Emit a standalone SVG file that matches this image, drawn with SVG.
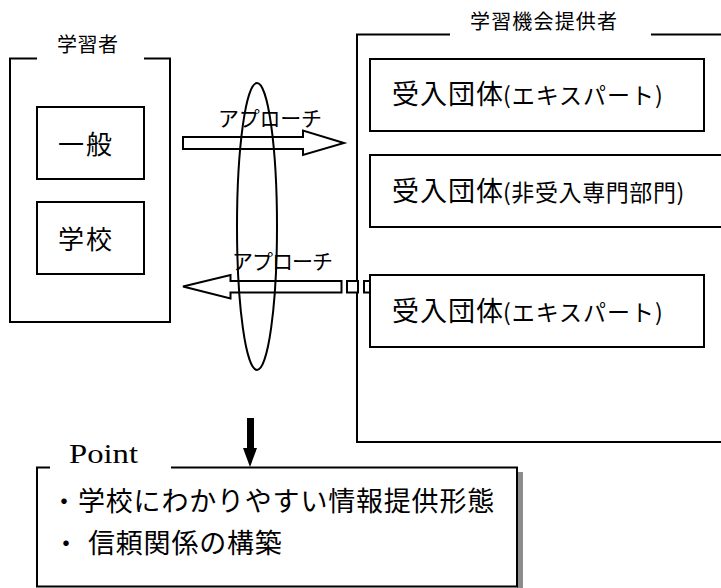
<svg xmlns="http://www.w3.org/2000/svg" width="721" height="588" viewBox="0 0 721 588">
<style>
.ln{fill:none;stroke:#000;stroke-width:2}
.bx{fill:#fff;stroke:#000;stroke-width:2}
.t{font-family:"Noto Sans CJK JP","Noto Sans",sans-serif;fill:#000}
.ar{fill:#fff;stroke:#000;stroke-width:2;stroke-linejoin:miter}
</style>
<rect width="721" height="588" fill="#fff"/>

<g id="learners">
<path class="ln" d="M37,58.5 H10 V322 H170 V58.5 H144"/>
<text class="t" x="57" y="52" font-size="20" textLength="61" lengthAdjust="spacing">学習者</text>
</g>
<g id="general">
<rect class="bx" x="37" y="107" width="107" height="72"/>
<text class="t" x="58" y="154" font-size="26" textLength="54" lengthAdjust="spacing">一般</text>
</g>
<g id="school">
<rect class="bx" x="37" y="202" width="107" height="72"/>
<text class="t" x="58" y="249" font-size="26" textLength="54" lengthAdjust="spacing">学校</text>
</g>

<g id="providers">
<path class="ln" d="M450,34.5 H357 V442 H721 M651,34.5 H721"/>
<text class="t" x="470" y="29" font-size="20" textLength="147" lengthAdjust="spacing">学習機会提供者</text>
</g>
<g id="org1">
<rect class="bx" x="370" y="59" width="334" height="72"/>
<text class="t" x="392" y="104" font-size="27" letter-spacing="1">受入団体<tspan x="503" font-size="23">(エキスパート)</tspan></text>
</g>
<g id="org2">
<rect class="bx" x="370" y="155" width="352" height="72"/>
<text class="t" x="392" y="201" font-size="27" letter-spacing="1">受入団体<tspan x="503" font-size="23" letter-spacing="0.6">(非受入専門部門)</tspan></text>
</g>
<g id="org3">
<rect class="bx" x="370" y="275" width="334" height="72"/>
<text class="t" x="392" y="321" font-size="27" letter-spacing="1">受入団体<tspan x="503" font-size="23">(エキスパート)</tspan></text>
</g>

<g id="connectors">
<polygon class="ar" points="183,137 303,137 303,130.5 344,143 303,155 303,149 183,149"/>
<text class="t" x="218" y="126" font-size="21" textLength="104" lengthAdjust="spacing">アプローチ</text>
<polygon class="ar" points="183,286.5 230.5,275 230.5,281 341.5,281 341.5,292.5 230.5,292.5 230.5,298.5"/>
<rect class="bx" x="347" y="281" width="11" height="11.5"/>
<rect class="bx" x="364" y="281" width="6" height="11.5"/>
<text class="t" x="232" y="269" font-size="21" textLength="101" lengthAdjust="spacing">アプローチ</text>
<ellipse class="ln" cx="257" cy="226.5" rx="20" ry="143.5"/>
<rect x="247" y="418" width="7" height="31" fill="#000"/>
<polygon points="243,448 257,448 250,467" fill="#000"/>
</g>

<g id="point">
<rect x="517" y="472" width="6" height="116" fill="#8c8c8c"/>
<path class="ln" d="M50,467.5 H37 V586.5 H517 V467.5 H171"/>
<text x="69" y="463" font-family="'Liberation Serif',serif" font-size="28" textLength="69" lengthAdjust="spacingAndGlyphs">Point</text>
<text class="t" x="51" y="511" font-size="26">・</text>
<text class="t" x="78" y="511" font-size="27" letter-spacing="0.8">学校にわかりやすい情報提供形態</text>
<text class="t" x="53" y="553" font-size="26">・</text>
<text class="t" x="88" y="553" font-size="27" letter-spacing="0.8">信頼関係の構築</text>
</g>
</svg>
